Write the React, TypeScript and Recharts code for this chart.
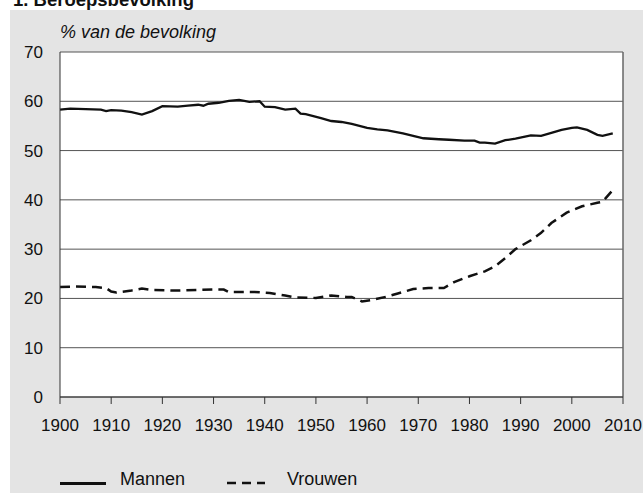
import { CartesianGrid, Line, LineChart, ReferenceLine, XAxis, YAxis } from "recharts";

const mannenYears = [
  1900, 1902, 1905, 1908, 1909, 1910, 1912, 1914, 1916, 1918, 1920, 1923, 1925, 1927, 1928, 1929,
  1931, 1933, 1935, 1937, 1939, 1940, 1942, 1944, 1946, 1947, 1948, 1951, 1953, 1955, 1957, 1960,
  1962, 1964, 1967, 1971, 1974, 1976, 1979, 1981, 1982, 1983, 1985, 1987, 1989, 1992, 1994, 1996,
  1998, 2000, 2001, 2003, 2005, 2006, 2008
];
const mannenValues = [
  58.3, 58.5, 58.4, 58.3, 58.0, 58.2, 58.1, 57.8, 57.3, 58.0, 59.0, 58.9, 59.1, 59.3, 59.1, 59.5,
  59.7, 60.1, 60.3, 59.9, 60.0, 58.9, 58.8, 58.3, 58.5, 57.5, 57.4, 56.6, 56.0, 55.8, 55.4, 54.6,
  54.3, 54.1, 53.5, 52.5, 52.3, 52.2, 52.0, 52.0, 51.6, 51.6, 51.4, 52.1, 52.4, 53.1, 53.0, 53.6,
  54.2, 54.6, 54.7, 54.2, 53.2, 53.0, 53.5
];

const vrouwenYears = [
  1900, 1903, 1907, 1909, 1910, 1911, 1914, 1916, 1918, 1923, 1930, 1932, 1933, 1938, 1941, 1944,
  1946, 1950, 1953, 1956, 1957, 1959, 1961, 1964, 1966, 1969, 1972, 1975, 1977, 1980, 1983, 1985,
  1987, 1989, 1992, 1994, 1996, 1999, 2002, 2005, 2006, 2008
];
const vrouwenValues = [
  22.3, 22.4, 22.3, 22.1, 21.4, 21.2, 21.6, 22.0, 21.7, 21.6, 21.8, 21.8, 21.3, 21.3, 21.1, 20.6,
  20.2, 20.1, 20.6, 20.3, 20.3, 19.4, 19.7, 20.4, 21.0, 21.9, 22.1, 22.1, 23.3, 24.5, 25.5, 26.5,
  28.2, 30.0, 31.8, 33.3, 35.3, 37.4, 38.7, 39.4, 39.6, 42.0
];

const yearTicks = [1900, 1910, 1920, 1930, 1940, 1950, 1960, 1970, 1980, 1990, 2000, 2010];
const valueTicks = [0, 10, 20, 30, 40, 50, 60, 70];

const FONT = '"Liberation Sans", Arial, Helvetica, sans-serif';

const mannen = mannenYears.map((year, i) => ({ year, value: mannenValues[i] }));
const vrouwen = vrouwenYears.map((year, i) => ({ year, value: vrouwenValues[i] }));

export default function App() {
  return (
    <div
      style={{
        position: "absolute",
        top: 0,
        left: 0,
        width: 643,
        height: 493,
        overflow: "hidden",
        background: "#fff",
        fontFamily: FONT,
        color: "#111"
      }}
    >
      <div
        style={{
          position: "absolute",
          left: 13,
          top: -8,
          fontSize: 18.5,
          lineHeight: "15px",
          fontWeight: 700,
          whiteSpace: "nowrap"
        }}
      >
        1. Beroepsbevolking
      </div>
      <div style={{ position: "absolute", left: 10, top: 10, width: 633, height: 483, background: "#e4e4e4" }} />

      <div
        style={{
          position: "absolute",
          left: 60,
          top: 22,
          fontSize: 18,
          fontStyle: "italic",
          lineHeight: "20px",
          whiteSpace: "nowrap"
        }}
      >
        % van de bevolking
      </div>

      <div style={{ position: "absolute", left: 0, top: 0 }}>
        <LineChart width={643} height={493} margin={{ top: 52, right: 20, left: 0, bottom: 0 }}>
          <CartesianGrid fill="#fff" stroke="#555" vertical={false} horizontalValues={valueTicks} />
          <XAxis
            type="number"
            dataKey="year"
            domain={[1900, 2010]}
            ticks={yearTicks}
            interval={0}
            allowDuplicatedCategory={false}
            height={96}
            tickSize={7}
            tickMargin={15}
            stroke="#333"
            tick={{ fill: "#111", fontSize: 17, fontFamily: FONT }}
          />
          <YAxis
            type="number"
            domain={[0, 70]}
            ticks={valueTicks}
            interval={0}
            width={60}
            tickLine={false}
            tickSize={0}
            tickMargin={17}
            stroke="#333"
            tick={{ fill: "#111", fontSize: 17, fontFamily: FONT }}
          />
          <ReferenceLine x={2010} stroke="#666" strokeWidth={1.5} />
          <Line
            data={mannen}
            dataKey="value"
            type="linear"
            stroke="#111"
            strokeWidth={2.3}
            dot={false}
            isAnimationActive={false}
          />
          <Line
            data={vrouwen}
            dataKey="value"
            type="linear"
            stroke="#111"
            strokeWidth={2.5}
            strokeDasharray="10 6"
            dot={false}
            isAnimationActive={false}
          />
        </LineChart>
      </div>

      <div style={{ position: "absolute", left: 60, top: 482, width: 46, height: 2.5, background: "#111" }} />
      <div style={{ position: "absolute", left: 120, top: 468, fontSize: 18, lineHeight: "22px" }}>Mannen</div>
      <svg style={{ position: "absolute", left: 227, top: 480 }} width={40} height={6}>
        <line x1={0} y1={3} x2={38} y2={3} stroke="#111" strokeWidth={2.5} strokeDasharray="9 6" />
      </svg>
      <div style={{ position: "absolute", left: 287, top: 468, fontSize: 18, lineHeight: "22px" }}>Vrouwen</div>
    </div>
  );
}
